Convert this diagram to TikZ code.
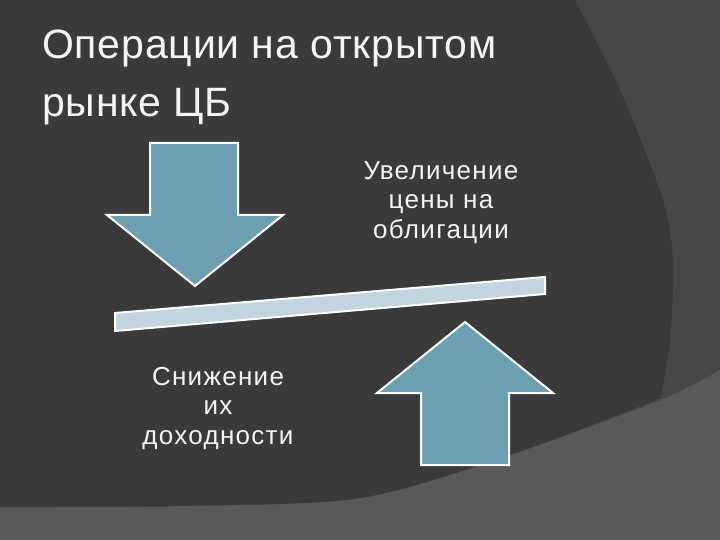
\documentclass[tikz,border=0pt]{standalone}
\usepackage{fontspec}
\setmainfont{Liberation Sans}
\newfontfamily\titlefont[LetterSpace=2]{Liberation Sans}
\newfontfamily\capfont[LetterSpace=5]{Liberation Sans}
\usetikzlibrary{positioning}

\definecolor{slidedark}{RGB}{58,58,58}
\definecolor{slidemid}{RGB}{71,71,71}
\definecolor{slidelow}{RGB}{89,89,89}
\definecolor{arrowblue}{RGB}{108,160,176}
\definecolor{barblue}{RGB}{194,212,222}
\definecolor{lighttext}{RGB}{244,244,244}

\begin{document}
\begin{tikzpicture}[x=1pt, y=-1pt,
    caption/.style={align=center, text=lighttext, inner sep=0pt, font=\capfont\fontsize{26}{29.5}\selectfont},
    outline/.style={draw=white, line width=2pt, line join=miter}]
        \useasboundingbox (0,0) rectangle (720,540);

        % Background bands
        \fill[slidelow] (0,0) rectangle (720,540);
        \fill[slidemid] (0,0) -- (720,0) -- (720,370)
            -- plot[smooth] coordinates {(720,370) (660,400) (510,455) (360,498) (180,506) (0,507)} -- cycle;
        \fill[slidedark] (0,0) -- (575,0)
            -- plot[smooth] coordinates {(575,0) (620,90) (663,200) (673,262) (670,340) (661,398)}
            -- plot[smooth] coordinates {(661,398) (510,455) (360,498) (180,506) (0,507)} -- cycle;

        % Title
        \node[anchor=north west, align=left, text=lighttext, inner sep=0pt,
              font=\titlefont\fontsize{41}{58}\selectfont] (title) at (42,30) {Операции на открытом\\рынке ЦБ};

        % Down arrow
        \draw[outline, fill=arrowblue] (150,143) -- (238,143) -- (238,215) -- (283,215)
            -- (195,286) -- (107,215) -- (150,215) -- cycle;

        % Tilted bar
        \draw[outline, fill=barblue] (115,313) -- (545,277) -- (545,294) -- (115,331) -- cycle;

        % Up arrow
        \draw[outline, fill=arrowblue] (421,465) -- (509,465) -- (509,393) -- (553,393)
            -- (465,322) -- (377,393) -- (421,393) -- cycle;

        % Captions
        \node[caption, anchor=north] (rise) at (441,161) {Увеличение\\цены на\\облигации};
        \node[caption, anchor=north] (fall) at (218,367) {Снижение\\их\\доходности};
\end{tikzpicture}
\end{document}
